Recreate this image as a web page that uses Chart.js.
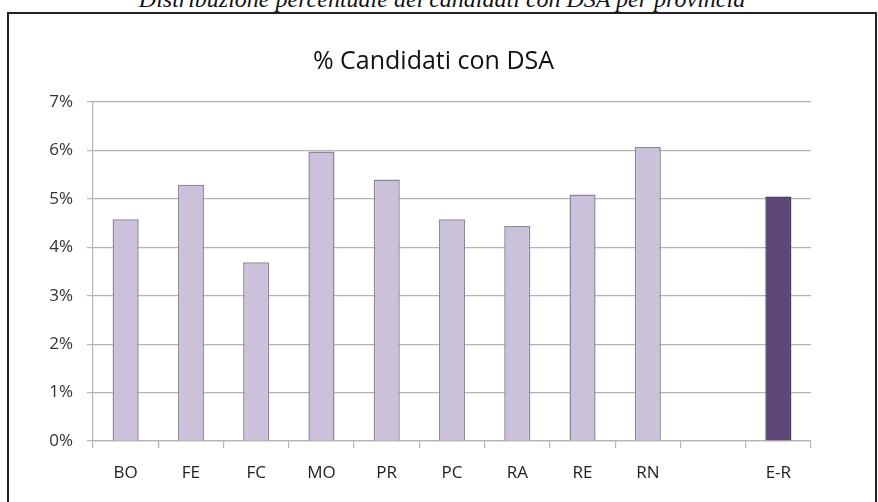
<!DOCTYPE html>
<html>
<head>
<meta charset="utf-8">
<script src="https://cdn.jsdelivr.net/npm/chart.js@4.4.0/dist/chart.umd.min.js"></script>
<style>
  html, body { margin: 0; padding: 0; background: #fff; }
  #wrap { position: relative; width: 878px; height: 502px; overflow: hidden; }
  #header {
    position: absolute; left: 0; width: 884px; top: -13px; text-align: center;
    font-family: "Liberation Serif", serif; font-style: italic; font-size: 24px;
    line-height: 24px; color: #111;
  }
  #box {
    position: absolute; left: 7px; top: 12px; width: 870px; height: 500px;
    border: 2px solid #222; box-sizing: border-box;
  }
  #chartCanvas { position: absolute; left: 0; top: 0; }
</style>
</head>
<body>
<div id="wrap">
  <div id="header">Distribuzione percentuale dei candidati con DSA per provincia</div>
  <div id="box"></div>
  <canvas id="chartCanvas" width="878" height="502"></canvas>
</div>
<script>
// ---- Data ----
const provinces = ["BO", "FE", "FC", "MO", "PR", "PC", "RA", "RE", "RN", "", "E-R"];
const dsaPercent = [4.58, 5.29, 3.69, 5.98, 5.40, 4.58, 4.44, 5.09, 6.07, null, 5.05];
const yTicks = [0, 1, 2, 3, 4, 5, 6, 7];

const lightFill = "#cbc1da";
const darkFill = "#5e4677";

const barColors = provinces.map(p => p === "E-R" ? darkFill : lightFill);
const borderColors = provinces.map(p => p === "E-R" ? "#4e3a66" : "#8d8799");

const ctx = document.getElementById("chartCanvas");

new Chart(ctx.getContext("2d"), {
  type: "bar",
  data: {
    labels: provinces,
    datasets: [
      {
        label: "% Candidati con DSA",
        data: dsaPercent,
        backgroundColor: barColors,
        borderColor: borderColors,
        borderWidth: 1.5,
        barPercentage: 0.4,
        categoryPercentage: 1.0,
      },
    ],
  },
  options: {
    responsive: false,
    animation: false,
    layout: {
      padding: { top: 38, right: 56, bottom: 0, left: 45 },
    },
    plugins: {
      legend: { display: false },
      tooltip: { enabled: false },
      title: {
        display: true,
        text: "% Candidati con DSA",
        color: "#111",
        font: { family: "Open Sans", size: 25, weight: "normal" },
        padding: { top: 9, bottom: 25 },
      },
    },
    scales: {
      y: {
        min: 0,
        max: 7,
        afterBuildTicks: (axis) => {
          axis.ticks = yTicks.map(v => ({ value: v }));
        },
        afterFit: (axis) => { axis.width = 48; },
        ticks: {
          callback: (v) => v + "%",
          color: "#333",
          font: { family: "Open Sans", size: 17 },
          padding: 14,
        },
        grid: {
          color: "#b4b4b4",
          lineWidth: 1.2,
          tickLength: 6,
        },
        border: { color: "#b4b4b4", width: 1.2 },
      },
      // empty spacer on the right so the title sits where the original has it
      spacer: {
        type: "linear",
        position: "right",
        display: true,
        afterFit: (axis) => { axis.width = 11; },
        ticks: { display: false },
        grid: { display: false },
        border: { display: false },
      },
      x: {
        afterFit: (axis) => { axis.height = 61; },
        ticks: {
          color: "#222",
          font: { family: "Open Sans", size: 17 },
          padding: 15,
          autoSkip: false,
          maxRotation: 0,
        },
        grid: {
          offset: true,
          drawOnChartArea: false,
          color: "#b4b4b4",
          lineWidth: 1.2,
          tickLength: 7,
        },
        border: { color: "#b4b4b4", width: 1.2 },
      },
    },
  },
});
</script>
</body>
</html>
